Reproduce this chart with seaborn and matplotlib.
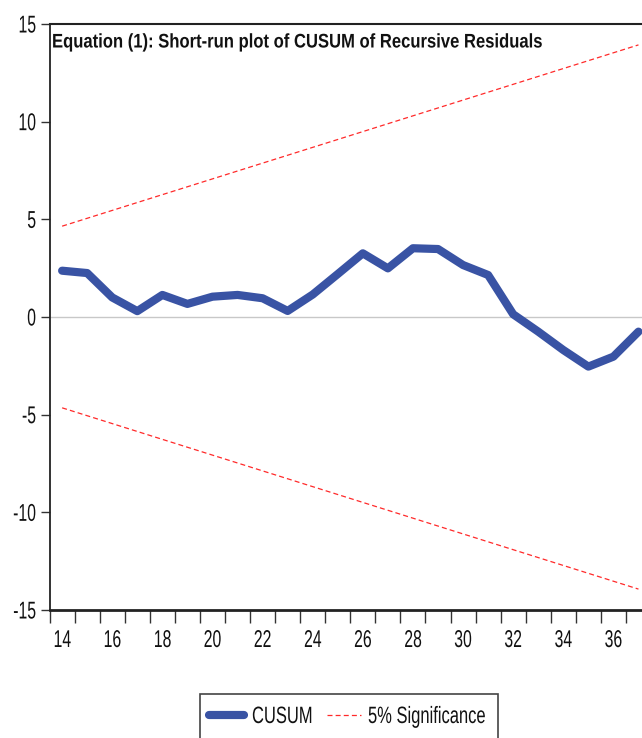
import matplotlib
matplotlib.use("Agg")
import matplotlib.pyplot as plt
import seaborn as sns
import pandas as pd
from matplotlib.patheffects import AbstractPathEffect
from matplotlib.transforms import Affine2D
from matplotlib.lines import Line2D
from matplotlib.patches import Rectangle

# ---- data ----
periods = list(range(14, 38))
cusum = [2.37, 2.25, 1.00, 0.30, 1.13, 0.67, 1.04, 1.13, 0.96, 0.31,
         1.15, 2.20, 3.26, 2.49, 3.52, 3.48, 2.66, 2.15, 0.14, -0.75,
         -1.69, -2.54, -2.03, -0.75]
sig_periods = [14, 37]
sig_upper = [4.65, 13.93]
sig_lower = [-4.65, -13.93]
xtick_values = list(range(14, 38, 2))
xtick_labels = [str(v) for v in xtick_values]
yticks = [-15, -10, -5, 0, 5, 10, 15]
title = "Equation (1): Short-run plot of CUSUM of Recursive Residuals"
legend_labels = ["CUSUM", "5% Significance"]

BLUE = "#3953a4"
RED = "#ff2a2a"

sns.set_theme(style="white")
plt.rcParams["font.family"] = ["Liberation Sans", "DejaVu Sans"]


class HScale(AbstractPathEffect):
    """Draw text horizontally condensed (narrow typeface look)."""
    def __init__(self, sx, anchor="center"):
        super().__init__()
        self.sx = sx
        self.anchor = anchor

    def draw_path(self, renderer, gc, tpath, affine, rgbFace=None):
        ext = tpath.get_extents()
        if self.anchor == "left":
            cx = 0.0
        elif self.anchor == "right":
            cx = ext.x1
        else:
            cx = 0.5 * (ext.x0 + ext.x1)
        tr = Affine2D().translate(-cx, 0).scale(self.sx, 1.0).translate(cx, 0) + affine
        renderer.draw_path(gc, tpath, tr, rgbFace)


df = pd.DataFrame({"period": periods, "CUSUM": cusum})
sig = pd.DataFrame({"period": sig_periods, "upper": sig_upper, "lower": sig_lower})

W, H = 642, 738
fig = plt.figure(figsize=(W / 100, H / 100), dpi=100)
ax = fig.add_axes([49.6 / W, 1 - 610 / H, (651 - 49.6) / W, (610 - 24) / H])

ax.axhline(0, color="#c8c8c8", lw=1.0, zorder=1)
sns.lineplot(data=df, x="period", y="CUSUM", ax=ax, color=BLUE, lw=5.9,
             solid_capstyle="round", solid_joinstyle="round", zorder=3, legend=False)
sns.lineplot(data=sig, x="period", y="upper", ax=ax, color=RED, lw=0.9, zorder=2, legend=False)
sns.lineplot(data=sig, x="period", y="lower", ax=ax, color=RED, lw=0.9, zorder=2, legend=False)
for l in ax.lines[-2:]:
    l.set_linestyle((0, (4, 2.5)))

ax.set_xlim(13.5, 37.5)
ax.set_ylim(-15, 15)
ax.set_xlabel("")
ax.set_ylabel("")

# x: tick marks at period boundaries, labels centred on periods
ax.set_xticks([p - 0.5 for p in periods] + [37.5])
ax.set_xticklabels([])
ax.set_xticks(xtick_values, minor=True)
ax.set_xticklabels(xtick_labels, minor=True)
ax.tick_params(axis="x", which="major", direction="out", length=9, width=1.0,
               color="#333333", bottom=True)
ax.tick_params(axis="x", which="minor", length=0, pad=14.4, labelsize=17.5,
               labelcolor="#111111")
ax.set_yticks(yticks)
ax.set_yticklabels([str(v) for v in yticks])
ax.tick_params(axis="y", direction="out", length=6.5, width=1.0, color="#333333",
               left=True, labelsize=17.5, pad=3, labelcolor="#111111")

for lab in ax.get_xticklabels(minor=True):
    lab.set_path_effects([HScale(0.65, "center")])
for lab in ax.get_yticklabels():
    lab.set_path_effects([HScale(0.65, "right")])

for s in ["left", "bottom", "top", "right"]:
    ax.spines[s].set_color("#222222")
ax.spines["left"].set_linewidth(1.3)
ax.spines["bottom"].set_linewidth(2.0)
ax.spines["top"].set_linewidth(1.5)

fig.text(52 / W, 1 - 47.5 / H, title, fontsize=14.2, fontweight="bold",
         va="baseline", ha="left", color="#111111",
         path_effects=[HScale(0.843, "left")])

# ---- legend (drawn in figure pixels) ----
def fx(px):
    return px / W

def fy(py):
    return 1 - py / H

fig.patches.append(Rectangle((fx(200), fy(745)), (498 - 200) / W, (745 - 694) / H,
                             transform=fig.transFigure, fill=False,
                             edgecolor="#444444", lw=1.2))
fig.lines.append(Line2D([fx(209), fx(244)], [fy(715), fy(715)], transform=fig.transFigure,
                        color=BLUE, lw=5.9, solid_capstyle="round"))
fig.lines.append(Line2D([fx(327), fx(361)], [fy(715), fy(715)], transform=fig.transFigure,
                        color=RED, lw=0.9, linestyle=(0, (4, 2.5))))
fig.text(fx(252), fy(723), legend_labels[0], fontsize=17, va="baseline", ha="left",
         color="#111111", path_effects=[HScale(0.70, "left")])
fig.text(fx(368), fy(723), legend_labels[1], fontsize=17, va="baseline", ha="left",
         color="#111111", path_effects=[HScale(0.70, "left")])

fig.savefig("out.png", dpi=100)
